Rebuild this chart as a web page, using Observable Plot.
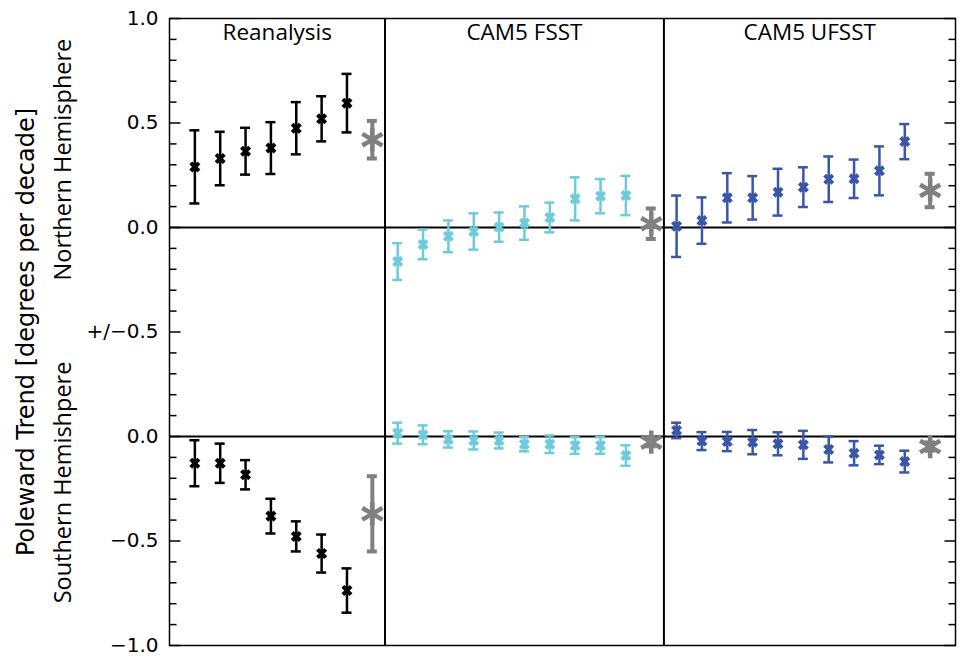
<!DOCTYPE html>
<html><head><meta charset="utf-8">
<script src="https://cdn.jsdelivr.net/npm/d3@7"></script>
<script src="https://cdn.jsdelivr.net/npm/@observablehq/plot@0.6"></script>
<style>body{margin:0;background:#fff}</style>
</head><body><div id="chart"></div>
<script>
// ---- data ----
const groups = ["Reanalysis", "CAM5 FSST", "CAM5 UFSST"];
const groupColors = ["#000000", "#6dcbdb", "#3a56a8"];
const meanColor = "#808080";

// Northern Hemisphere trends (deg/decade) and +/- uncertainty
const nhRea = [0.29, 0.33, 0.365, 0.38, 0.475, 0.52, 0.595];
const nhReaErr = [0.175, 0.128, 0.112, 0.124, 0.125, 0.108, 0.14];
const nhFsst = [-0.163, -0.081, -0.042, -0.019, 0.002, 0.021, 0.048, 0.137, 0.150, 0.153];
const nhFsstErr = [0.088, 0.071, 0.076, 0.087, 0.07, 0.08, 0.071, 0.103, 0.082, 0.094];
const nhUfsst = [0.006, 0.033, 0.142, 0.142, 0.169, 0.193, 0.231, 0.233, 0.271, 0.411];
const nhUfsstErr = [0.147, 0.111, 0.118, 0.104, 0.112, 0.095, 0.109, 0.092, 0.117, 0.084];

// Southern Hemisphere trends
const shRea = [-0.128, -0.128, -0.183, -0.381, -0.478, -0.56, -0.737];
const shReaErr = [0.11, 0.094, 0.07, 0.083, 0.072, 0.091, 0.106];
const shFsst = [0.016, 0.008, -0.014, -0.019, -0.019, -0.037, -0.037, -0.043, -0.043, -0.091];
const shFsstErr = [0.05, 0.045, 0.039, 0.043, 0.038, 0.034, 0.042, 0.04, 0.04, 0.049];
const shUfsst = [0.029, -0.022, -0.024, -0.027, -0.035, -0.040, -0.062, -0.080, -0.088, -0.120];
const shUfsstErr = [0.037, 0.043, 0.046, 0.058, 0.055, 0.067, 0.062, 0.058, 0.044, 0.052];

// Group means (gray asterisks)
const nhMean = [0.42, 0.018, 0.177];
const nhMeanErr = [0.09, 0.073, 0.08];
const shMean = [-0.37, -0.027, -0.048];
const shMeanErr = [0.18, 0.02, 0.02];

// y axis: NH plotted as-is, SH shifted down by one unit
const shOffset = -1;
const yTicks = [-2, -1.5, -1, -0.5, 0, 0.5, 1];
const yTickLabels = ["\u22121.0", "\u22120.5", "0.0", "+/\u22120.5", "0.0", "0.5", "1.0"];
const yMinorTicks = d3.range(-20, 11).map(d => d / 10);

// ---- build table ----
const nhSeries = [nhRea, nhFsst, nhUfsst], nhErrs = [nhReaErr, nhFsstErr, nhUfsstErr];
const shSeries = [shRea, shFsst, shUfsst], shErrs = [shReaErr, shFsstErr, shUfsstErr];
const members = [], means = [], dividers = [];
let pos = 1;
groups.forEach((g, gi) => {
  nhSeries[gi].forEach((v, i) => {
    members.push({group: g, x: pos, y: v, e: nhErrs[gi][i], color: groupColors[gi]});
    members.push({group: g, x: pos, y: shSeries[gi][i] + shOffset, e: shErrs[gi][i], color: groupColors[gi]});
    pos++;
  });
  means.push({group: g, x: pos, y: nhMean[gi], e: nhMeanErr[gi]});
  means.push({group: g, x: pos, y: shMean[gi] + shOffset, e: shMeanErr[gi]});
  if (gi < groups.length - 1) dividers.push(pos + 0.5);
  pos++;
});
const xMax = pos;
const edges = [0, ...dividers, xMax];
const panelCenters = groups.map((g, i) => (edges[i] + edges[i + 1]) / 2);

const W = 962, H = 656, mL = 169, mR = 7, mT = 18, mB = 11;
const pxX = xMax / (W - mL - mR);           // x units per pixel
const cap = 5 * pxX;                         // half cap width
const majorLen = 11 * pxX, minorLen = 7 * pxX;
const isMajor = d => yTicks.includes(d);
const tickRows = yMinorTicks.map(v => ({v, len: isMajor(v) ? majorLen : minorLen}));

const chart = Plot.plot({
  width: W, height: H,
  marginLeft: mL, marginRight: mR, marginTop: mT, marginBottom: mB,
  x: {domain: [0, xMax], axis: null},
  y: {domain: [-2, 1], axis: null},
  style: {fontFamily: "DejaVu Sans", background: "white", color: "black"},
  marks: [
    Plot.ruleY([0, shOffset], {stroke: "black", strokeWidth: 2}),
    Plot.ruleX(dividers, {stroke: "black", strokeWidth: 2}),
    Plot.frame({stroke: "black", strokeWidth: 1.5}),
    Plot.axisY({ticks: yTicks, tickSize: 0, tickPadding: 11, fontSize: 20, label: null,
      tickFormat: d => yTickLabels[yTicks.indexOf(d)]}),
    // inward ticks, left and right
    Plot.link(tickRows, {x1: () => 0, x2: d => d.len, y1: d => d.v, y2: d => d.v,
      stroke: "black", strokeWidth: 1.5}),
    Plot.link(tickRows, {x1: d => xMax - d.len, x2: () => xMax, y1: d => d.v, y2: d => d.v,
      stroke: "black", strokeWidth: 1.5}),
    // member error bars
    Plot.ruleX(members, {x: "x", y1: d => d.y - d.e, y2: d => d.y + d.e, stroke: "color", strokeWidth: 2.5}),
    Plot.ruleY(members, {y: d => d.y + d.e, x1: d => d.x - cap, x2: d => d.x + cap, stroke: "color", strokeWidth: 2.5}),
    Plot.ruleY(members, {y: d => d.y - d.e, x1: d => d.x - cap, x2: d => d.x + cap, stroke: "color", strokeWidth: 2.5}),
    Plot.dot(members, {x: "x", y: "y", symbol: "times", r: 3.8, stroke: "color", strokeWidth: 4}),
    // mean error bars
    Plot.ruleX(means, {x: "x", y1: d => d.y - d.e, y2: d => d.y + d.e, stroke: meanColor, strokeWidth: 4}),
    Plot.ruleY(means, {y: d => d.y + d.e, x1: d => d.x - cap, x2: d => d.x + cap, stroke: meanColor, strokeWidth: 4}),
    Plot.ruleY(means, {y: d => d.y - d.e, x1: d => d.x - cap, x2: d => d.x + cap, stroke: meanColor, strokeWidth: 4}),
    Plot.dot(means, {x: "x", y: "y", symbol: "asterisk", r: 11, stroke: meanColor, strokeWidth: 4.5}),
    // panel titles
    Plot.text(groups, {x: (d, i) => panelCenters[i], frameAnchor: "top", dy: 6, text: d => d,
      fontSize: 22.5, fontFamily: "Open Sans"}),
    // y titles
    Plot.text(["Poleward Trend [degrees per decade]"], {frameAnchor: "left", dx: -143, rotate: -90,
      textAnchor: "middle", text: d => d, fontSize: 24}),
    Plot.text(["Northern Hemisphere"], {frameAnchor: "left", y: 0.325, dx: -106, rotate: -90,
      textAnchor: "middle", text: d => d, fontSize: 23.5, fontFamily: "Open Sans"}),
    Plot.text(["Southern Hemishpere"], {frameAnchor: "left", y: -1.22, dx: -106, rotate: -90,
      textAnchor: "middle", text: d => d, fontSize: 23.5, fontFamily: "Open Sans"})
  ]
});
document.getElementById("chart").append(chart);
</script>
</body></html>
